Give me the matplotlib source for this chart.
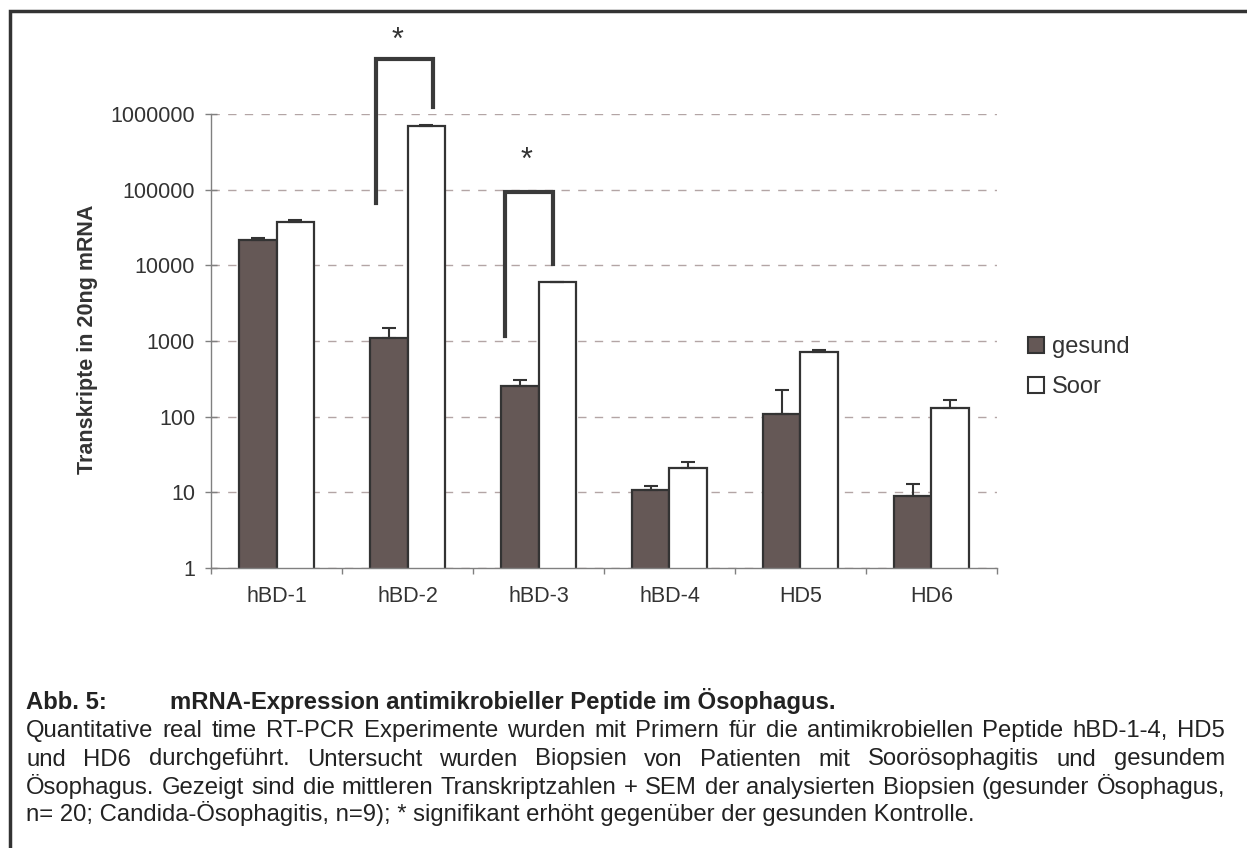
import matplotlib
matplotlib.use('Agg')
import matplotlib.pyplot as plt
from matplotlib.patches import Patch, Rectangle
from matplotlib.ticker import FixedLocator, NullLocator, FuncFormatter

plt.rcParams['font.family'] = ['Liberation Sans', 'DejaVu Sans']

W, H = 1247, 848

peptide = ['hBD-1', 'hBD-2', 'hBD-3', 'hBD-4', 'HD5', 'HD6']
gesund = [21700, 1105, 254, 10.7, 108, 8.9]
gesund_sem = [1400, 380, 50, 1.4, 117, 3.9]
soor = [37900, 700000, 6030, 20.9, 716, 130]
soor_sem = [2100, 12000, 90, 4.2, 46, 36]

# significance brackets (x left, x right, y left end, y top, y right end) and stars
brackets = [(0.76, 1.195, 67600, 5.4e6, 1.26e6),
            (1.744, 2.11, 1175, 93500, 10400)]
stars = [(0.925, 9.4e6), (1.91, 2.4e5)]

caption_title = ['Abb. 5:', 'mRNA-Expression antimikrobieller Peptide im Ösophagus.']
caption_lines = [
    'Quantitative real time RT-PCR Experimente wurden mit Primern für die antimikrobiellen Peptide hBD-1-4, HD5',
    'und HD6 durchgeführt. Untersucht wurden Biopsien von Patienten mit Soorösophagitis und gesundem',
    'Ösophagus. Gezeigt sind die mittleren Transkriptzahlen + SEM der analysierten Biopsien (gesunder Ösophagus,',
    'n= 20; Candida-Ösophagitis, n=9); * signifikant erhöht gegenüber der gesunden Kontrolle.',
]

dark = '#655856'
edge = '#333333'
axis_col = '#808080'

fig = plt.figure(figsize=(W / 100, H / 100), dpi=100)
ax = fig.add_axes([211 / W, 1 - 567.7 / H, 786 / W, 453.4 / H])

x = list(range(len(peptide)))
bw = 0.29
xg = [i - bw / 2 for i in x]
xs = [i + bw / 2 for i in x]
ax.bar(xg, gesund, bw, color=dark, edgecolor=edge, linewidth=1.6, log=True, zorder=2)
ax.bar(xs, soor, bw, color='white', edgecolor=edge, linewidth=1.6, log=True, zorder=2)
ax.errorbar(xg, gesund, yerr=[[0] * 6, gesund_sem], fmt='none', ecolor=edge,
            elinewidth=1.5, capsize=5, capthick=1.5, zorder=3)
ax.errorbar(xs, soor, yerr=[[0] * 6, soor_sem], fmt='none', ecolor=edge,
            elinewidth=1.5, capsize=5, capthick=1.5, zorder=3)

for xl, xr, yl, yt, yr in brackets:
    ax.plot([xl, xl, xr, xr], [yl, yt, yt, yr], color='#3a3a3a', lw=3,
            clip_on=False, zorder=4, solid_joinstyle='miter')
for sx, sy in stars:
    ax.text(sx, sy, '*', fontsize=22, ha='center', va='center', color='#333333',
            clip_on=False)

ax.set_yscale('log')
ax.set_ylim(1, 1e6)
ax.set_xlim(-0.5, 5.5)
ax.yaxis.set_major_locator(FixedLocator([10 ** k for k in range(7)]))
ax.yaxis.set_minor_locator(NullLocator())
ax.yaxis.set_major_formatter(FuncFormatter(lambda v, p: '%d' % round(v)))
ax.set_xticks(x)
ax.set_xticklabels(peptide)
ax.set_xticks([i - 0.5 for i in range(7)], minor=True)

ax.tick_params(axis='y', direction='inout', length=8, width=1, color=axis_col,
               labelsize=15.5, labelcolor='#333333', pad=7.5)
ax.tick_params(axis='x', which='major', length=0, labelsize=15.5,
               labelcolor='#333333', pad=13)
ax.tick_params(axis='x', which='minor', direction='out', length=4.5, width=1,
               color=axis_col)

ax.yaxis.grid(True, linestyle=(0, (6, 6)), color='#b3a5a5', lw=1)
ax.set_axisbelow(True)
for s in ['top', 'right']:
    ax.spines[s].set_visible(False)
for s in ['left', 'bottom']:
    ax.spines[s].set_color(axis_col)
    ax.spines[s].set_linewidth(1)

fig.text(88 / W, 1 - 339 / H, 'Transkripte in 20ng mRNA', rotation=90, fontsize=15.5,
         fontweight='bold', ha='center', va='center', color='#333333')

handles = [Patch(facecolor=dark, edgecolor=edge, linewidth=1.5, label='gesund'),
           Patch(facecolor='white', edgecolor=edge, linewidth=1.5, label='Soor')]
fig.legend(handles=handles, loc='upper left', bbox_to_anchor=(1028 / W, 1 - 336 / H),
           frameon=False, fontsize=17, handlelength=0.68, handleheight=0.68,
           handletextpad=0.35, labelspacing=0.77, borderpad=0, borderaxespad=0,
           labelcolor='#333333')

# frame round the figure (only top and left edges fall inside the picture)
fig.add_artist(Rectangle((10 / W, -0.2), 1.2, 1.2 - 10.5 / H, transform=fig.transFigure,
                         fill=False, edgecolor='#333333', linewidth=2.5))

renderer = fig.canvas.get_renderer()


def text_width(s, size, weight='normal'):
    t = fig.text(0, 0, s, fontsize=size, fontweight=weight)
    wd = t.get_window_extent(renderer).width
    t.remove()
    return wd


# caption font size chosen so the last (unjustified) line is as wide as in the reference
fs = 15 * 951 / text_width(caption_lines[-1], 15)
cap_col = '#222222'
fig.text(26 / W, 1 - 709 / H, caption_title[0], fontsize=fs, fontweight='bold',
         va='baseline', color=cap_col)
fig.text(170 / W, 1 - 709 / H, caption_title[1], fontsize=fs, fontweight='bold',
         va='baseline', color=cap_col)

x0, x1 = 26, 1225
baselines = [737, 765.5, 794, 821]
for k, line in enumerate(caption_lines):
    yb = 1 - baselines[k] / H
    if k == len(caption_lines) - 1:
        fig.text(x0 / W, yb, line, fontsize=fs, va='baseline', color=cap_col)
        continue
    words = line.split(' ')
    widths = [text_width(w, fs) for w in words]
    gap = (x1 - x0 - sum(widths)) / (len(words) - 1)
    xp = x0
    for w, wd in zip(words, widths):
        fig.text(xp / W, yb, w, fontsize=fs, va='baseline', color=cap_col)
        xp += wd + gap

fig.savefig('out.png', dpi=100)
